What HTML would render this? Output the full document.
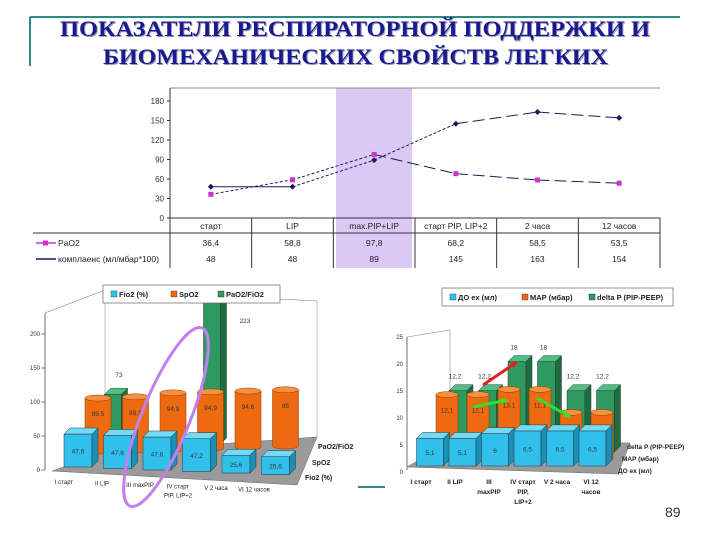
<!DOCTYPE html>
<html><head><meta charset="utf-8"><style>
body{margin:0;background:#fff}
svg{display:block;font-family:"Liberation Sans",sans-serif}
</style></head><body>
<svg id="s" width="720" height="540" viewBox="0 0 720 540" xmlns="http://www.w3.org/2000/svg">
<line x1="30" y1="17" x2="680" y2="17" stroke="#2a8a8a" stroke-width="2"/>
<line x1="30" y1="17" x2="30" y2="66" stroke="#2a8a8a" stroke-width="2"/>
<g font-family="'Liberation Serif',serif" font-weight="bold" font-size="22">
<text x="61" y="37" fill="#9999bb" textLength="590" lengthAdjust="spacingAndGlyphs">ПОКАЗАТЕЛИ РЕСПИРАТОРНОЙ ПОДДЕРЖКИ И</text>
<text x="60" y="36" fill="#1a1a90" textLength="590" lengthAdjust="spacingAndGlyphs">ПОКАЗАТЕЛИ РЕСПИРАТОРНОЙ ПОДДЕРЖКИ И</text>
<text x="104" y="65" fill="#9999bb" textLength="505" lengthAdjust="spacingAndGlyphs">БИОМЕХАНИЧЕСКИХ СВОЙСТВ ЛЕГКИХ</text>
<text x="103" y="64" fill="#1a1a90" textLength="505" lengthAdjust="spacingAndGlyphs">БИОМЕХАНИЧЕСКИХ СВОЙСТВ ЛЕГКИХ</text>
</g>
<g id="top"></g>
<g id="left"></g>
<g id="right"></g>
<line x1="358" y1="487" x2="385" y2="487" stroke="#2a8a8a" stroke-width="2"/>
<text x="665" y="517" font-size="14" fill="#333">89</text>
</svg>
<script>
// ---- top chart data
const topCats=["старт","LIP","max.PIP+LIP","старт PIP, LIP+2","2 часа","12 часов"];
const paO2=[36.4,58.8,97.8,68.2,58.5,53.5];
const paO2Labels=["36,4","58,8","97,8","68,2","58,5","53,5"];
const compliance=[48,48,89,145,163,154];
const complianceLabels=["48","48","89","145","163","154"];
const topTicks=[0,30,60,90,120,150,180];
// ---- left 3D chart data
const leftCats=[["I старт"],["II LIP"],["III maxPIP"],["IV старт","PIP, LIP+2"],["V 2 часа"],["VI 12 часов"]];
const fio2=[47.6,47.6,47.6,47.2,25.6,25.6];
const fio2Labels=["47,6","47,6","47,6","47,2","25,6","25,6"];
const spo2=[89.5,89.9,94.9,94.9,94.6,95];
const spo2Labels=["89,5","89,9","94,9","94,9","94,6","95"];
const pf=[73,60,60,223,60,60];
const pfLabels=["73","","","223","",""];
const leftTicks=[0,50,100,150,200];
// ---- right 3D chart data
const rightCats=[["I старт"],["II LIP"],["III","maxPIP"],["IV старт","PIP,","LIP+2"],["V 2 часа"],["VI 12","часов"]];
const vt=[5.1,5.1,6,6.5,6.5,6.5];
const vtLabels=["5,1","5,1","6","6,5","6,5","6,5"];
const mapv=[12.1,12.1,13.1,13.1,8.7,8.7];
const mapLabels=["12,1","12,1","13,1","11,1","8,7","8,7"];
const dp=[12.2,12.2,18,18,12.2,12.2];
const dpLabels=["12,2","12,2","18","18","12,2","12,2"];
const rightTicks=[0,5,10,15,20,25];

const NS="http://www.w3.org/2000/svg";
function mk(p,tag,a,txt){const e=document.createElementNS(NS,tag);for(const k in a)e.setAttribute(k,a[k]);if(txt!=null)e.textContent=txt;p.appendChild(e);return e;}

// ===== TOP CHART
const T=document.getElementById('top');
const x0=170,x1=660,yb=218,colW=(x1-x0)/topCats.length;
const ty=v=>yb-v*(117/180);
const tx=i=>x0+colW*(i+0.5);
let r=mk(T,'rect',{x:336,y:88,width:76,height:180,fill:'#dcc8f5'});


let l=mk(T,'line',{x1:x0,y1:88,x2:x1,y2:88,stroke:'#888','stroke-width':1});


l=mk(T,'line',{x1:x0,y1:88,x2:x0,y2:268,stroke:'#333'});


topTicks.forEach(v=>{
 const t=mk(T,'text',{x:x0-6,y:ty(v)+3,'font-size':8,'text-anchor':'end',fill:'#333'},String(v));
 
 
 const k=mk(T,'line',{x1:x0-3,y1:ty(v),x2:x0,y2:ty(v),stroke:'#333'});
 
 
});
l=mk(T,'line',{x1:x0,y1:yb,x2:x1,y2:yb,stroke:'#333'});


l=mk(T,'line',{x1:33,y1:233,x2:x1,y2:233,stroke:'#333'});


for(let i=1;i<=topCats.length;i++){
 const v=mk(T,'line',{x1:x0+colW*i,y1:yb,x2:x0+colW*i,y2:268,stroke:'#333'});
 
 
}
topCats.forEach((c,i)=>{
 const t=mk(T,'text',{x:tx(i),y:229,'font-size':8.5,'text-anchor':'middle',fill:'#222'},c);
 
 
 const a=mk(T,'text',{x:tx(i),y:246,'font-size':8.5,'text-anchor':'middle',fill:'#222'},paO2Labels[i]);
 
 
 const b=mk(T,'text',{x:tx(i),y:262,'font-size':8.5,'text-anchor':'middle',fill:'#222'},complianceLabels[i]);
 
 
});
l=mk(T,'line',{x1:36,y1:243,x2:56,y2:243,stroke:'#cc33cc','stroke-width':1.5});


r=mk(T,'rect',{x:43,y:240.5,width:5,height:5,fill:'#cc33cc'});


let t=mk(T,'text',{x:58,y:246,'font-size':8.5,fill:'#222'},'PaO2');


l=mk(T,'line',{x1:36,y1:259,x2:56,y2:259,stroke:'#1a1a5e','stroke-width':1.5});


t=mk(T,'text',{x:58,y:262,'font-size':8.5,fill:'#222'},'комплаенс (мл/мбар*100)');


for(let i=0;i<paO2.length-1;i++){
 const s=mk(T,'line',{x1:tx(i),y1:ty(paO2[i]),x2:tx(i+1),y2:ty(paO2[i+1]),stroke:'#1a1a5e','stroke-width':1,'stroke-dasharray':i<2?'3,2':'12,5'});
 
 
 const c=mk(T,'line',{x1:tx(i),y1:ty(compliance[i]),x2:tx(i+1),y2:ty(compliance[i+1]),stroke:'#1a1a5e','stroke-width':1,'stroke-dasharray':i==0?'none':(i<3?'3,2':'12,5')});
 
 
}
paO2.forEach((v,i)=>{
 const m=mk(T,'rect',{x:tx(i)-2.5,y:ty(v)-2.5,width:5,height:5,fill:'#cc33cc'});
 
 
});
compliance.forEach((v,i)=>{
 const x=tx(i),y=ty(v);
 const m=mk(T,'polygon',{points:`${x},${y-3} ${x+3},${y} ${x},${y+3} ${x-3},${y}`,fill:'#1a1a5e'});
 
 
});

// ===== 3D helpers
function box(g,cx,base,h,w,col,top,side,name,label){
 const d=6;
 const f=mk(g,'rect',{x:cx-w/2,y:base-h,width:w,height:h,fill:col,stroke:'#333','stroke-width':0.5});
 
 
 const tp=mk(g,'polygon',{points:`${cx-w/2},${base-h} ${cx-w/2+d},${base-h-d} ${cx+w/2+d},${base-h-d} ${cx+w/2},${base-h}`,fill:top,stroke:'#333','stroke-width':0.5});
 
 
 const sd=mk(g,'polygon',{points:`${cx+w/2},${base-h} ${cx+w/2+d},${base-h-d} ${cx+w/2+d},${base-d} ${cx+w/2},${base}`,fill:side,stroke:'#333','stroke-width':0.5});
 
 
 if(label){const t=mk(g,'text',{x:cx,y:base-h/2+3,'font-size':6.5,'text-anchor':'middle',fill:'#333'},label);
 
 }
}
function cyl(g,cx,base,h,w,name,label){
 const ry=3;
 const b=mk(g,'path',{d:`M${cx-w/2},${base-h} L${cx-w/2},${base} A${w/2},${ry} 0 0 0 ${cx+w/2},${base} L${cx+w/2},${base-h} Z`,fill:'#ee6a10',stroke:'#8a3a00','stroke-width':0.5});
 
 
 const e=mk(g,'ellipse',{cx:cx,cy:base-h,rx:w/2,ry:ry,fill:'#f59040',stroke:'#8a3a00','stroke-width':0.5});
 
 
 const t=mk(g,'text',{x:cx,y:base-h+18,'font-size':6.5,'text-anchor':'middle',fill:'#333'},label);
 
 
}
function legend(g,x,y,w,items){
 const r=mk(g,'rect',{x:x,y:y,width:w,height:18,fill:'#fff',stroke:'#666','stroke-width':0.7});
 
 
 items.forEach(([c,tx,off])=>{
  const s=mk(g,'rect',{x:x+off,y:y+6,width:6,height:6,fill:c,stroke:'#333','stroke-width':0.4});
  
  
  const t=mk(g,'text',{x:x+off+8,y:y+12,'font-size':7.5,'font-weight':'bold',fill:'#222'},tx);
  
  
 });
}

// ===== LEFT CHART
const L=document.getElementById('left');
const ly=v=>v*0.68;
let p=mk(L,'polyline',{points:'45,313 105,290 317,301',fill:'none',stroke:'#777','stroke-width':0.6});


l=mk(L,'line',{x1:105,y1:290,x2:105,y2:450,stroke:'#999','stroke-width':0.6});


l=mk(L,'line',{x1:317,y1:301,x2:317,y2:437,stroke:'#999','stroke-width':0.6});


p=mk(L,'polygon',{points:'52,471 105,452 317,437 297,485',fill:'#9a9a9a',stroke:'#666','stroke-width':0.5});


l=mk(L,'line',{x1:45,y1:313,x2:45,y2:470,stroke:'#333','stroke-width':0.7});


leftTicks.forEach(v=>{
 const t=mk(L,'text',{x:40,y:470-ly(v)+2,'font-size':6,'text-anchor':'end',fill:'#333'},String(v));
 
 
 const k=mk(L,'line',{x1:41,y1:470-ly(v),x2:45,y2:470-ly(v),stroke:'#333','stroke-width':0.6});
 
 
});
const lgx=i=>113+i*35, loX=i=>98+i*37.5, lcX=i=>78+i*39.5;
pf.forEach((v,i)=>{ if(i===0||i===3) box(L,lgx(i)+(i==3?-6:0),444,ly(v),17,'#2e9a60','#4cc080','#1c6e40','pao2-fio2-bar',null);});
let lt=mk(L,'text',{x:119,y:377,'font-size':6.5,'text-anchor':'middle',fill:'#333'},pfLabels[0]);


lt=mk(L,'text',{x:245,y:323,'font-size':6.5,'text-anchor':'middle',fill:'#333'},pfLabels[3]);


spo2.forEach((v,i)=>cyl(L,loX(i),451+i*-1,ly(v)*0.87,26,'spo2-cylinder',spo2Labels[i]));
fio2.forEach((v,i)=>box(L,lcX(i),467+i*1.5,ly(v)*1.02,28,'#30c0ec','#70dcf8','#1a90b8','fio2-box',fio2Labels[i]));
const el=mk(L,'ellipse',{cx:166,cy:417,rx:24,ry:96,fill:'none',stroke:'#c080f0','stroke-width':3,transform:'rotate(22 166 417)'});


legend(L,103,285,177,[['#30c0ec','Fio2 (%)',8],['#ee6a10','SpO2',68],['#2e9a60','PaO2/FiO2',115]]);
[['PaO2/FiO2',318,449],['SpO2',312,465],['Fio2 (%)',305,480]].forEach(([s,x,y])=>{
 const t=mk(L,'text',{x:x,y:y,'font-size':7,'font-weight':'bold',fill:'#222'},s);
 
 
});
leftCats.forEach((c,i)=>c.forEach((s,j)=>{
 const t=mk(L,'text',{x:64+i*38,y:484+i*1.5+j*9,'font-size':6,'text-anchor':'middle',fill:'#222'},s);
 
 
}));

// ===== RIGHT CHART
const R=document.getElementById('right');
const rv=v=>v*5.4;
p=mk(R,'polyline',{points:'407,337 450,330 450,440',fill:'none',stroke:'#888','stroke-width':0.6});


p=mk(R,'polygon',{points:'407,467 452,441 630,443 618,474',fill:'#9a9a9a',stroke:'#666','stroke-width':0.5});


l=mk(R,'line',{x1:407,y1:337,x2:407,y2:470,stroke:'#333','stroke-width':0.7});


rightTicks.forEach(v=>{
 const t=mk(R,'text',{x:403,y:472-rv(v)+2,'font-size':6,'text-anchor':'end',fill:'#333'},String(v));
 
 
});
const rgx=i=>458+i*29.5, rox=i=>447+i*31, rcx=i=>430+i*32.5;
dp.forEach((v,i)=>{
 box(R,rgx(i),452,rv(v)*0.93,18,'#2e9a60','#4cc080','#1c6e40','delta-p-bar',null);
 const t=mk(R,'text',{x:rgx(i)-3,y:452-rv(v)*0.93-12,'font-size':6.5,'text-anchor':'middle',fill:'#333'},dpLabels[i]);
 
 
});
mapv.forEach((v,i)=>cyl(R,rox(i),458,rv(v)*0.97,22,'map-cylinder',mapLabels[i]));
vt.forEach((v,i)=>box(R,rcx(i),466,rv(v)*1.0,27,'#30c0ec','#70dcf8','#1a90b8','vt-box',vtLabels[i]));
function arrow(x1,y1,x2,y2,c,n){
 const a=mk(R,'line',{x1:x1,y1:y1,x2:x2,y2:y2,stroke:c,'stroke-width':3});
 
 
 const ang=Math.atan2(y2-y1,x2-x1),s=7;
 const h=mk(R,'polygon',{points:`${x2},${y2} ${x2-s*Math.cos(ang-0.5)},${y2-s*Math.sin(ang-0.5)} ${x2-s*Math.cos(ang+0.5)},${y2-s*Math.sin(ang+0.5)}`,fill:c});
 
 
}
arrow(483,385,517,362,'#e02020','red-arrow');
arrow(473,407,507,400,'#30e030','green-arrow');
arrow(537,398,570,417,'#30e030','green-arrow');
legend(R,442,288,231,[['#30c0ec','ДО ex (мл)',8],['#ee6a10','MAP (мбар)',80],['#2e9a60','delta P (PIP-PEEP)',147]]);
[['delta P (PIP-PEEP)',627,449],['MAP (мбар)',622,461],['ДО ex (мл)',618,473]].forEach(([s,x,y])=>{
 const t=mk(R,'text',{x:x,y:y,'font-size':6.5,'font-weight':'bold',fill:'#222'},s);
 
 
});
rightCats.forEach((c,i)=>c.forEach((s,j)=>{
 const t=mk(R,'text',{x:421+i*34,y:484+j*10,'font-size':6.5,'text-anchor':'middle',fill:'#222','font-weight':'bold'},s);
 
 
}));
</script>
</body></html>
